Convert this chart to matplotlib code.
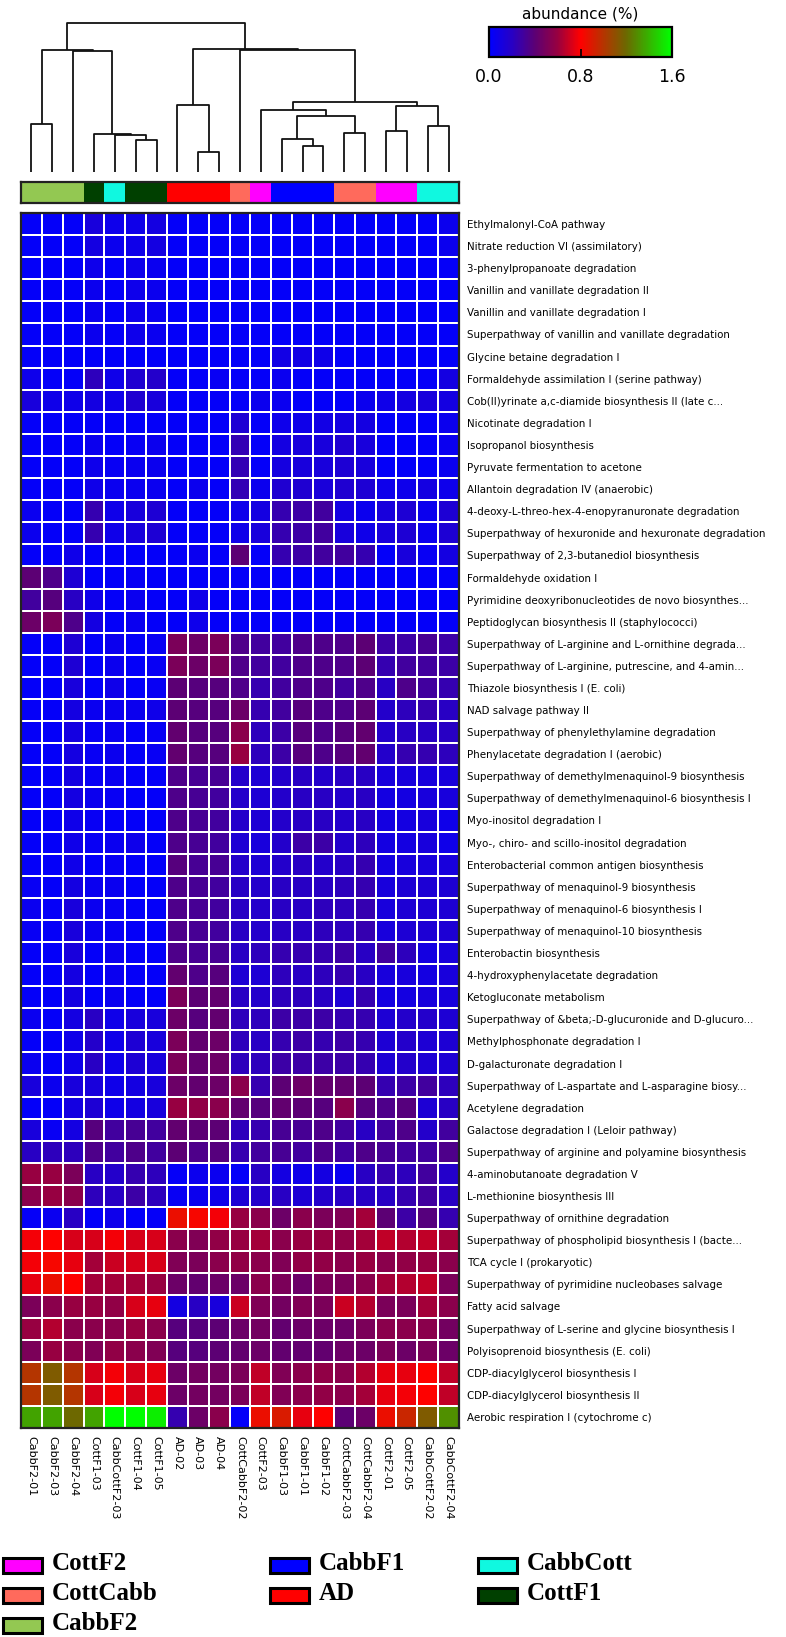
import numpy as np
import matplotlib
matplotlib.use("Agg")
import matplotlib.pyplot as plt
from matplotlib.colors import LinearSegmentedColormap, ListedColormap, Normalize
from matplotlib.cm import ScalarMappable
from matplotlib.patches import Rectangle

# ---- data ----
samples = ["CabbF2-01", "CabbF2-03", "CabbF2-04", "CottF1-03", "CabbCottF2-03",
           "CottF1-04", "CottF1-05", "AD-02", "AD-03", "AD-04", "CottCabbF2-02",
           "CottF2-03", "CabbF1-03", "CabbF1-01", "CabbF1-02", "CottCabbF2-03",
           "CottCabbF2-04", "CottF2-01", "CottF2-05", "CabbCottF2-02", "CabbCottF2-04"]

sample_groups = ["CabbF2", "CabbF2", "CabbF2", "CottF1", "CabbCott", "CottF1", "CottF1",
                 "AD", "AD", "AD", "CottCabb", "CottF2", "CabbF1", "CabbF1", "CabbF1",
                 "CottCabb", "CottCabb", "CottF2", "CottF2", "CabbCott", "CabbCott"]

group_names = ["CottF2", "CottCabb", "CabbF2", "CabbF1", "AD", "CabbCott", "CottF1"]
group_colors = ["#ff00ff", "#ff6a5c", "#93c852", "#0000ff", "#ff0000", "#10f8e0", "#004000"]

pathways = [
    "Ethylmalonyl-CoA pathway",
    "Nitrate reduction VI (assimilatory)",
    "3-phenylpropanoate degradation",
    "Vanillin and vanillate degradation II",
    "Vanillin and vanillate degradation I",
    "Superpathway of vanillin and vanillate degradation",
    "Glycine betaine degradation I",
    "Formaldehyde assimilation I (serine pathway)",
    "Cob(II)yrinate a,c-diamide biosynthesis II (late c...",
    "Nicotinate degradation I",
    "Isopropanol biosynthesis",
    "Pyruvate fermentation to acetone",
    "Allantoin degradation IV (anaerobic)",
    "4-deoxy-L-threo-hex-4-enopyranuronate degradation",
    "Superpathway of hexuronide and hexuronate degradation",
    "Superpathway of 2,3-butanediol biosynthesis",
    "Formaldehyde oxidation I",
    "Pyrimidine deoxyribonucleotides de novo biosynthes...",
    "Peptidoglycan biosynthesis II (staphylococci)",
    "Superpathway of L-arginine and L-ornithine degrada...",
    "Superpathway of L-arginine, putrescine, and 4-amin...",
    "Thiazole biosynthesis I (E. coli)",
    "NAD salvage pathway II",
    "Superpathway of phenylethylamine degradation",
    "Phenylacetate degradation I (aerobic)",
    "Superpathway of demethylmenaquinol-9 biosynthesis",
    "Superpathway of demethylmenaquinol-6 biosynthesis I",
    "Myo-inositol degradation I",
    "Myo-, chiro- and scillo-inositol degradation",
    "Enterobacterial common antigen biosynthesis",
    "Superpathway of menaquinol-9 biosynthesis",
    "Superpathway of menaquinol-6 biosynthesis I",
    "Superpathway of menaquinol-10 biosynthesis",
    "Enterobactin biosynthesis",
    "4-hydroxyphenylacetate degradation",
    "Ketogluconate metabolism",
    "Superpathway of &beta;-D-glucuronide and D-glucuro...",
    "Methylphosphonate degradation I",
    "D-galacturonate degradation I",
    "Superpathway of L-aspartate and L-asparagine biosy...",
    "Acetylene degradation",
    "Galactose degradation I (Leloir pathway)",
    "Superpathway of arginine and polyamine biosynthesis",
    "4-aminobutanoate degradation V",
    "L-methionine biosynthesis III",
    "Superpathway of ornithine degradation",
    "Superpathway of phospholipid biosynthesis I (bacte...",
    "TCA cycle I (prokaryotic)",
    "Superpathway of pyrimidine nucleobases salvage",
    "Fatty acid salvage",
    "Superpathway of L-serine and glycine biosynthesis I",
    "Polyisoprenoid biosynthesis (E. coli)",
    "CDP-diacylglycerol biosynthesis I",
    "CDP-diacylglycerol biosynthesis II",
    "Aerobic respiration I (cytochrome c)",
]

# abundance (%) per pathway (rows) and sample (columns, in the order above)
abundance = [
    [0.02, 0.02, 0.02, 0.12, 0.07, 0.08, 0.10, 0.02, 0.02, 0.02, 0.02, 0.02, 0.02, 0.02, 0.02, 0.02, 0.02, 0.02, 0.02, 0.02, 0.06],
    [0.02, 0.02, 0.02, 0.10, 0.06, 0.08, 0.10, 0.02, 0.02, 0.02, 0.02, 0.02, 0.02, 0.02, 0.02, 0.02, 0.02, 0.02, 0.02, 0.02, 0.06],
    [0.02, 0.02, 0.02, 0.07, 0.03, 0.07, 0.05, 0.02, 0.02, 0.02, 0.02, 0.02, 0.02, 0.02, 0.02, 0.02, 0.02, 0.02, 0.02, 0.02, 0.03],
    [0.02, 0.02, 0.02, 0.06, 0.03, 0.07, 0.06, 0.02, 0.02, 0.02, 0.02, 0.02, 0.02, 0.02, 0.02, 0.02, 0.02, 0.02, 0.02, 0.02, 0.02],
    [0.02, 0.02, 0.02, 0.06, 0.03, 0.07, 0.05, 0.02, 0.02, 0.02, 0.02, 0.02, 0.02, 0.02, 0.02, 0.02, 0.02, 0.02, 0.02, 0.02, 0.02],
    [0.02, 0.02, 0.02, 0.06, 0.03, 0.07, 0.05, 0.02, 0.02, 0.02, 0.02, 0.02, 0.02, 0.02, 0.02, 0.02, 0.02, 0.02, 0.02, 0.02, 0.02],
    [0.02, 0.02, 0.02, 0.02, 0.02, 0.02, 0.02, 0.02, 0.02, 0.02, 0.02, 0.02, 0.09, 0.09, 0.08, 0.02, 0.02, 0.02, 0.02, 0.02, 0.02],
    [0.07, 0.02, 0.02, 0.22, 0.08, 0.16, 0.18, 0.02, 0.02, 0.04, 0.02, 0.02, 0.05, 0.02, 0.02, 0.02, 0.02, 0.02, 0.02, 0.03, 0.10],
    [0.12, 0.08, 0.08, 0.10, 0.08, 0.16, 0.12, 0.02, 0.02, 0.02, 0.02, 0.06, 0.05, 0.02, 0.02, 0.02, 0.06, 0.08, 0.10, 0.12, 0.10],
    [0.02, 0.02, 0.02, 0.02, 0.02, 0.02, 0.02, 0.02, 0.02, 0.02, 0.15, 0.02, 0.07, 0.08, 0.09, 0.10, 0.10, 0.02, 0.02, 0.02, 0.06],
    [0.02, 0.02, 0.02, 0.06, 0.02, 0.04, 0.06, 0.02, 0.02, 0.02, 0.24, 0.02, 0.10, 0.12, 0.12, 0.16, 0.12, 0.02, 0.02, 0.02, 0.05],
    [0.02, 0.02, 0.02, 0.07, 0.04, 0.05, 0.06, 0.02, 0.02, 0.02, 0.24, 0.02, 0.11, 0.12, 0.12, 0.15, 0.12, 0.02, 0.02, 0.02, 0.05],
    [0.02, 0.02, 0.02, 0.08, 0.05, 0.05, 0.05, 0.02, 0.06, 0.02, 0.24, 0.06, 0.16, 0.16, 0.13, 0.16, 0.15, 0.07, 0.07, 0.10, 0.07],
    [0.05, 0.02, 0.02, 0.25, 0.08, 0.12, 0.15, 0.02, 0.02, 0.02, 0.07, 0.10, 0.25, 0.28, 0.30, 0.10, 0.06, 0.12, 0.15, 0.06, 0.15],
    [0.06, 0.02, 0.02, 0.25, 0.08, 0.12, 0.15, 0.02, 0.02, 0.02, 0.08, 0.12, 0.25, 0.28, 0.30, 0.12, 0.08, 0.12, 0.15, 0.06, 0.15],
    [0.02, 0.02, 0.08, 0.02, 0.02, 0.02, 0.02, 0.02, 0.05, 0.02, 0.40, 0.02, 0.25, 0.28, 0.30, 0.30, 0.25, 0.02, 0.12, 0.04, 0.10],
    [0.40, 0.35, 0.15, 0.02, 0.02, 0.04, 0.02, 0.02, 0.02, 0.02, 0.02, 0.02, 0.02, 0.02, 0.02, 0.02, 0.02, 0.02, 0.02, 0.02, 0.02],
    [0.30, 0.38, 0.20, 0.08, 0.02, 0.05, 0.02, 0.02, 0.08, 0.02, 0.02, 0.02, 0.02, 0.02, 0.02, 0.02, 0.02, 0.02, 0.02, 0.02, 0.02],
    [0.45, 0.50, 0.35, 0.10, 0.02, 0.05, 0.02, 0.02, 0.07, 0.02, 0.02, 0.02, 0.02, 0.02, 0.02, 0.02, 0.02, 0.02, 0.02, 0.02, 0.02],
    [0.02, 0.02, 0.15, 0.02, 0.06, 0.02, 0.04, 0.50, 0.45, 0.50, 0.35, 0.30, 0.30, 0.35, 0.35, 0.35, 0.40, 0.28, 0.28, 0.32, 0.28],
    [0.02, 0.02, 0.15, 0.02, 0.06, 0.02, 0.04, 0.50, 0.45, 0.50, 0.35, 0.30, 0.30, 0.35, 0.35, 0.35, 0.40, 0.25, 0.30, 0.30, 0.28],
    [0.02, 0.02, 0.12, 0.02, 0.08, 0.02, 0.04, 0.40, 0.38, 0.38, 0.35, 0.25, 0.30, 0.35, 0.35, 0.30, 0.35, 0.20, 0.35, 0.30, 0.25],
    [0.03, 0.02, 0.10, 0.05, 0.06, 0.06, 0.08, 0.40, 0.38, 0.38, 0.45, 0.25, 0.30, 0.38, 0.35, 0.35, 0.40, 0.18, 0.22, 0.25, 0.20],
    [0.03, 0.02, 0.10, 0.04, 0.05, 0.03, 0.04, 0.42, 0.38, 0.38, 0.55, 0.22, 0.28, 0.38, 0.35, 0.38, 0.42, 0.18, 0.20, 0.20, 0.20],
    [0.02, 0.02, 0.10, 0.04, 0.06, 0.03, 0.04, 0.42, 0.38, 0.38, 0.60, 0.22, 0.28, 0.38, 0.35, 0.38, 0.42, 0.18, 0.25, 0.25, 0.22],
    [0.02, 0.02, 0.10, 0.04, 0.05, 0.03, 0.03, 0.35, 0.32, 0.32, 0.18, 0.15, 0.18, 0.20, 0.18, 0.20, 0.20, 0.12, 0.12, 0.12, 0.12],
    [0.02, 0.02, 0.10, 0.06, 0.04, 0.02, 0.02, 0.35, 0.32, 0.30, 0.18, 0.15, 0.18, 0.20, 0.20, 0.18, 0.20, 0.10, 0.10, 0.12, 0.12],
    [0.02, 0.02, 0.08, 0.04, 0.03, 0.02, 0.02, 0.35, 0.32, 0.30, 0.18, 0.15, 0.18, 0.20, 0.20, 0.18, 0.20, 0.10, 0.10, 0.12, 0.08],
    [0.02, 0.02, 0.08, 0.04, 0.05, 0.07, 0.02, 0.35, 0.32, 0.30, 0.15, 0.12, 0.18, 0.28, 0.28, 0.18, 0.22, 0.10, 0.10, 0.12, 0.08],
    [0.02, 0.02, 0.08, 0.02, 0.04, 0.02, 0.02, 0.38, 0.32, 0.32, 0.18, 0.15, 0.18, 0.20, 0.18, 0.20, 0.25, 0.10, 0.12, 0.12, 0.12],
    [0.04, 0.02, 0.10, 0.05, 0.05, 0.02, 0.02, 0.35, 0.32, 0.30, 0.20, 0.18, 0.20, 0.20, 0.20, 0.22, 0.25, 0.12, 0.15, 0.15, 0.15],
    [0.05, 0.03, 0.12, 0.05, 0.04, 0.02, 0.02, 0.35, 0.32, 0.30, 0.20, 0.18, 0.20, 0.20, 0.22, 0.22, 0.25, 0.12, 0.15, 0.15, 0.15],
    [0.04, 0.03, 0.12, 0.05, 0.04, 0.02, 0.02, 0.35, 0.32, 0.30, 0.20, 0.18, 0.20, 0.20, 0.22, 0.22, 0.25, 0.12, 0.15, 0.15, 0.15],
    [0.02, 0.02, 0.12, 0.02, 0.06, 0.03, 0.02, 0.35, 0.32, 0.32, 0.20, 0.22, 0.25, 0.25, 0.25, 0.28, 0.20, 0.30, 0.22, 0.10, 0.12],
    [0.02, 0.02, 0.10, 0.02, 0.05, 0.03, 0.02, 0.42, 0.35, 0.38, 0.15, 0.15, 0.22, 0.20, 0.22, 0.25, 0.20, 0.12, 0.12, 0.10, 0.12],
    [0.02, 0.02, 0.10, 0.02, 0.05, 0.03, 0.02, 0.50, 0.40, 0.42, 0.20, 0.18, 0.22, 0.22, 0.20, 0.15, 0.25, 0.10, 0.10, 0.12, 0.12],
    [0.05, 0.02, 0.10, 0.20, 0.08, 0.12, 0.12, 0.45, 0.38, 0.42, 0.22, 0.22, 0.28, 0.28, 0.28, 0.25, 0.25, 0.15, 0.18, 0.18, 0.15],
    [0.02, 0.02, 0.08, 0.18, 0.08, 0.15, 0.12, 0.50, 0.42, 0.45, 0.22, 0.20, 0.25, 0.28, 0.25, 0.28, 0.25, 0.15, 0.18, 0.15, 0.15],
    [0.05, 0.02, 0.08, 0.20, 0.08, 0.15, 0.12, 0.50, 0.42, 0.45, 0.22, 0.22, 0.28, 0.28, 0.28, 0.28, 0.25, 0.15, 0.18, 0.15, 0.15],
    [0.12, 0.06, 0.12, 0.12, 0.08, 0.10, 0.12, 0.45, 0.42, 0.45, 0.55, 0.25, 0.40, 0.45, 0.42, 0.42, 0.40, 0.25, 0.28, 0.30, 0.22],
    [0.02, 0.02, 0.10, 0.15, 0.08, 0.10, 0.12, 0.60, 0.58, 0.55, 0.42, 0.38, 0.42, 0.40, 0.38, 0.55, 0.38, 0.35, 0.38, 0.15, 0.20],
    [0.12, 0.04, 0.10, 0.38, 0.30, 0.32, 0.30, 0.42, 0.40, 0.40, 0.22, 0.25, 0.32, 0.32, 0.35, 0.30, 0.20, 0.30, 0.35, 0.18, 0.30],
    [0.20, 0.22, 0.22, 0.35, 0.30, 0.35, 0.30, 0.40, 0.35, 0.38, 0.25, 0.30, 0.32, 0.30, 0.35, 0.30, 0.35, 0.32, 0.30, 0.30, 0.35],
    [0.60, 0.60, 0.50, 0.20, 0.18, 0.25, 0.22, 0.03, 0.06, 0.05, 0.02, 0.20, 0.10, 0.08, 0.10, 0.05, 0.20, 0.25, 0.22, 0.30, 0.18],
    [0.55, 0.60, 0.55, 0.22, 0.20, 0.28, 0.22, 0.04, 0.06, 0.08, 0.15, 0.18, 0.20, 0.15, 0.18, 0.20, 0.20, 0.20, 0.25, 0.30, 0.20],
    [0.03, 0.05, 0.20, 0.02, 0.07, 0.02, 0.03, 0.85, 0.82, 0.78, 0.60, 0.55, 0.45, 0.55, 0.50, 0.52, 0.62, 0.40, 0.28, 0.38, 0.25],
    [0.78, 0.80, 0.72, 0.72, 0.78, 0.72, 0.72, 0.55, 0.52, 0.58, 0.60, 0.62, 0.55, 0.60, 0.60, 0.58, 0.62, 0.68, 0.65, 0.68, 0.62],
    [0.78, 0.82, 0.75, 0.62, 0.70, 0.72, 0.72, 0.52, 0.50, 0.55, 0.58, 0.55, 0.52, 0.58, 0.58, 0.55, 0.60, 0.55, 0.58, 0.60, 0.55],
    [0.75, 0.85, 0.80, 0.62, 0.62, 0.62, 0.60, 0.45, 0.42, 0.45, 0.45, 0.55, 0.50, 0.45, 0.50, 0.50, 0.55, 0.62, 0.65, 0.68, 0.50],
    [0.50, 0.55, 0.60, 0.60, 0.58, 0.72, 0.75, 0.10, 0.20, 0.12, 0.70, 0.52, 0.48, 0.52, 0.50, 0.70, 0.65, 0.50, 0.50, 0.62, 0.55],
    [0.60, 0.65, 0.55, 0.55, 0.55, 0.60, 0.55, 0.38, 0.38, 0.40, 0.45, 0.48, 0.42, 0.45, 0.45, 0.45, 0.50, 0.55, 0.55, 0.55, 0.48],
    [0.50, 0.60, 0.55, 0.52, 0.58, 0.55, 0.52, 0.38, 0.38, 0.40, 0.42, 0.45, 0.42, 0.42, 0.42, 0.45, 0.45, 0.50, 0.45, 0.50, 0.45],
    [1.00, 1.15, 1.00, 0.72, 0.78, 0.72, 0.75, 0.45, 0.48, 0.48, 0.50, 0.68, 0.52, 0.55, 0.58, 0.55, 0.65, 0.75, 0.75, 0.80, 0.68],
    [1.00, 1.15, 1.00, 0.72, 0.78, 0.72, 0.75, 0.45, 0.48, 0.48, 0.50, 0.68, 0.52, 0.55, 0.58, 0.55, 0.62, 0.75, 0.78, 0.80, 0.68],
    [1.35, 1.35, 1.20, 1.35, 1.60, 1.60, 1.55, 0.25, 0.45, 0.55, 0.02, 0.85, 0.90, 0.75, 0.80, 0.40, 0.45, 0.85, 0.95, 1.15, 1.30],
]

# column clustering: (left node, right node, height); leaves are 0..20, new nodes 21..
linkage = [
    (0, 1, 143), (5, 6, 97), (4, 22, 110), (3, 23, 113), (2, 24, 363), (21, 25, 367),
    (8, 9, 60), (7, 27, 200), (13, 14, 79), (12, 29, 100), (15, 16, 116), (30, 31, 168),
    (11, 32, 185), (17, 18, 123), (19, 20, 137), (34, 35, 198), (33, 36, 210),
    (10, 37, 365), (28, 38, 369), (26, 39, 447),
]

# ---- layout (pixels) ----
W, H = 786, 1637


def px_axes(fig, x0, y0, x1, y1):
    """Axes placed by pixel box, y measured from the top."""
    return fig.add_axes([x0 / W, 1 - y1 / H, (x1 - x0) / W, (y1 - y0) / H])


cmap = LinearSegmentedColormap.from_list(
    "abund", [(0.0, "#0000ff"), (0.125, "#2800c4"), (0.25, "#5c0074"),
              (0.375, "#980040"), (0.5, "#ff0000"),
              (0.75, "#6c6800"), (1.0, "#00ff00")])
norm = Normalize(vmin=0.0, vmax=1.6)

fig = plt.figure(figsize=(W / 100, H / 100), dpi=100)
fig.patch.set_facecolor("white")

n_rows, n_cols = len(pathways), len(samples)

# heatmap: dark cell outline first, white grid on top
hm = px_axes(fig, 21, 213, 459, 1428)
hm.pcolormesh(np.array(abundance), cmap=cmap, norm=norm,
              edgecolors="#303030", linewidth=2.2)
hm.pcolormesh(np.array(abundance), cmap=cmap, norm=norm,
              edgecolors="white", linewidth=1.3)
hm.set_xlim(0, n_cols)
hm.set_ylim(n_rows, 0)
hm.yaxis.tick_right()
hm.set_yticks(np.arange(n_rows) + 0.5)
hm.set_yticklabels(pathways, fontsize=7.4)
hm.set_xticks(np.arange(n_cols) + 0.5)
hm.set_xticklabels(samples, rotation=270, fontsize=8)
hm.tick_params(axis="y", length=0, pad=6)
hm.tick_params(axis="x", length=0, pad=6)
for sp in hm.spines.values():
    sp.set_linewidth(1.6)
    sp.set_color("#222222")

# group colour strip
strip = px_axes(fig, 21, 182, 459, 203)
group_idx = [group_names.index(g) for g in sample_groups]
strip.pcolormesh(np.array([group_idx]), cmap=ListedColormap(group_colors),
                 vmin=-0.5, vmax=len(group_names) - 0.5)
strip.set_xticks([])
strip.set_yticks([])
for sp in strip.spines.values():
    sp.set_linewidth(1.6)
    sp.set_color("#222222")

# dendrogram
dend = px_axes(fig, 21, 23, 459, 172)
node_x = {i: i + 0.5 for i in range(n_cols)}
node_h = {i: 0.0 for i in range(n_cols)}
for k, (a, b, h) in enumerate(linkage):
    xa, xb = node_x[a], node_x[b]
    dend.plot([xa, xa, xb, xb], [node_h[a], h, h, node_h[b]],
              color="#111111", lw=1.3, solid_capstyle="butt", clip_on=False)
    node_x[n_cols + k] = (xa + xb) / 2
    node_h[n_cols + k] = h
dend.set_xlim(0, n_cols)
dend.set_ylim(0, max(h for _, _, h in linkage))
dend.axis("off")

# colour bar
cax = px_axes(fig, 489, 27, 672, 57)
cb = fig.colorbar(ScalarMappable(norm=norm, cmap=cmap), cax=cax,
                  orientation="horizontal", ticks=[0.0, 0.8, 1.6])
cb.ax.set_xticklabels(["0.0", "0.8", "1.6"], fontsize=12.5)
cb.ax.tick_params(direction="in", length=6, width=1.2, pad=8, color="black")
cb.outline.set_linewidth(1.6)
cax.set_title("abundance (%)", fontsize=11, pad=6)

# legend for sample groups, three columns
ov = fig.add_axes([0, 0, 1, 1])
ov.set_xlim(0, W)
ov.set_ylim(H, 0)
ov.axis("off")
legend_cols = [["CottF2", "CottCabb", "CabbF2"], ["CabbF1", "AD"], ["CabbCott", "CottF1"]]
col_x = [3, 270, 478]
row_y = [1558, 1588, 1618]
for cx, names in zip(col_x, legend_cols):
    for ry, name in zip(row_y, names):
        color = group_colors[group_names.index(name)]
        ov.add_patch(Rectangle((cx, ry), 39, 15, facecolor=color,
                               edgecolor="black", lw=2.2))
        ov.text(cx + 49, ry + 12, name, fontsize=18, fontweight="bold",
                family="Liberation Serif", va="baseline", ha="left")

fig.savefig("out.png", dpi=100, facecolor="white")
